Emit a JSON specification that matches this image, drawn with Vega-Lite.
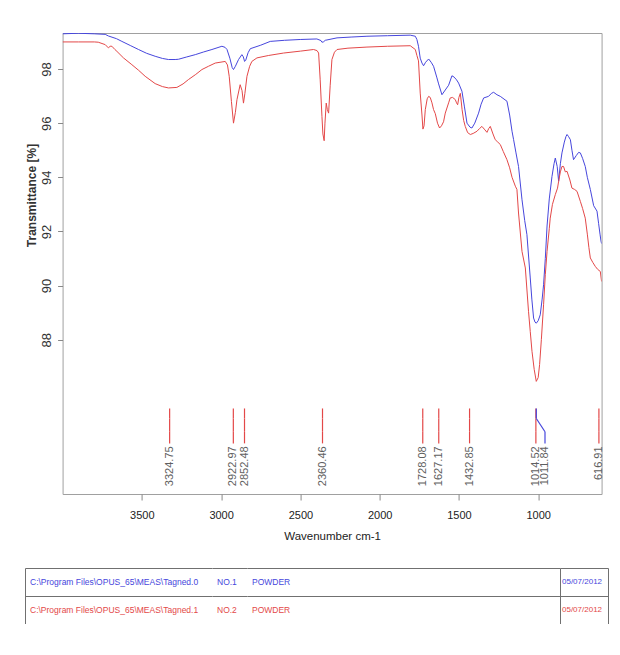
{
  "$schema": "https://vega.github.io/schema/vega-lite/v6.json",
  "padding": {"left": 25, "top": 32, "right": 0, "bottom": 0},
  "background": "white",
  "center": true,
  "spacing": 26,
  "config": {"font": "Liberation Sans", "view": {"stroke": "#a0a0a0"}},
  "datasets": {
    "spectra": [
      {"s": "0", "nu": 4000, "t": 99.30}, {"s": "0", "nu": 3900, "t": 99.32}, {"s": "0", "nu": 3800, "t": 99.30},
      {"s": "0", "nu": 3731, "t": 99.28}, {"s": "0", "nu": 3711, "t": 99.22}, {"s": "0", "nu": 3660, "t": 99.12},
      {"s": "0", "nu": 3626, "t": 99.02}, {"s": "0", "nu": 3570, "t": 98.86}, {"s": "0", "nu": 3521, "t": 98.72},
      {"s": "0", "nu": 3470, "t": 98.58}, {"s": "0", "nu": 3416, "t": 98.47}, {"s": "0", "nu": 3370, "t": 98.39},
      {"s": "0", "nu": 3332, "t": 98.35}, {"s": "0", "nu": 3290, "t": 98.35}, {"s": "0", "nu": 3269, "t": 98.36},
      {"s": "0", "nu": 3220, "t": 98.44}, {"s": "0", "nu": 3163, "t": 98.53}, {"s": "0", "nu": 3110, "t": 98.63},
      {"s": "0", "nu": 3058, "t": 98.72}, {"s": "0", "nu": 2995, "t": 98.84}, {"s": "0", "nu": 2975, "t": 98.80},
      {"s": "0", "nu": 2963, "t": 98.72}, {"s": "0", "nu": 2945, "t": 98.40}, {"s": "0", "nu": 2930, "t": 98.05},
      {"s": "0", "nu": 2922, "t": 97.98}, {"s": "0", "nu": 2910, "t": 98.10}, {"s": "0", "nu": 2890, "t": 98.35},
      {"s": "0", "nu": 2869, "t": 98.53}, {"s": "0", "nu": 2860, "t": 98.45}, {"s": "0", "nu": 2852, "t": 98.28},
      {"s": "0", "nu": 2845, "t": 98.32}, {"s": "0", "nu": 2830, "t": 98.60}, {"s": "0", "nu": 2816, "t": 98.75},
      {"s": "0", "nu": 2750, "t": 98.88}, {"s": "0", "nu": 2690, "t": 99.02}, {"s": "0", "nu": 2600, "t": 99.06},
      {"s": "0", "nu": 2501, "t": 99.09}, {"s": "0", "nu": 2396, "t": 99.11}, {"s": "0", "nu": 2370, "t": 99.05},
      {"s": "0", "nu": 2364, "t": 98.99}, {"s": "0", "nu": 2355, "t": 99.00}, {"s": "0", "nu": 2343, "t": 99.06},
      {"s": "0", "nu": 2269, "t": 99.15}, {"s": "0", "nu": 2180, "t": 99.18}, {"s": "0", "nu": 2080, "t": 99.21},
      {"s": "0", "nu": 1950, "t": 99.23}, {"s": "0", "nu": 1807, "t": 99.25}, {"s": "0", "nu": 1775, "t": 99.21},
      {"s": "0", "nu": 1765, "t": 99.09}, {"s": "0", "nu": 1755, "t": 98.84}, {"s": "0", "nu": 1744, "t": 98.40},
      {"s": "0", "nu": 1733, "t": 98.22}, {"s": "0", "nu": 1723, "t": 98.12}, {"s": "0", "nu": 1710, "t": 98.25},
      {"s": "0", "nu": 1691, "t": 98.37}, {"s": "0", "nu": 1675, "t": 98.25}, {"s": "0", "nu": 1660, "t": 98.10},
      {"s": "0", "nu": 1640, "t": 97.70}, {"s": "0", "nu": 1628, "t": 97.45}, {"s": "0", "nu": 1607, "t": 97.05},
      {"s": "0", "nu": 1595, "t": 97.15}, {"s": "0", "nu": 1565, "t": 97.40}, {"s": "0", "nu": 1544, "t": 97.75},
      {"s": "0", "nu": 1530, "t": 97.70}, {"s": "0", "nu": 1515, "t": 97.60}, {"s": "0", "nu": 1502, "t": 97.48},
      {"s": "0", "nu": 1481, "t": 97.18}, {"s": "0", "nu": 1465, "t": 96.60}, {"s": "0", "nu": 1449, "t": 96.00},
      {"s": "0", "nu": 1430, "t": 95.85}, {"s": "0", "nu": 1418, "t": 95.82}, {"s": "0", "nu": 1400, "t": 96.00},
      {"s": "0", "nu": 1376, "t": 96.37}, {"s": "0", "nu": 1360, "t": 96.70}, {"s": "0", "nu": 1344, "t": 96.93},
      {"s": "0", "nu": 1313, "t": 96.99}, {"s": "0", "nu": 1295, "t": 97.10}, {"s": "0", "nu": 1281, "t": 97.14},
      {"s": "0", "nu": 1260, "t": 97.05}, {"s": "0", "nu": 1239, "t": 96.99}, {"s": "0", "nu": 1197, "t": 96.81},
      {"s": "0", "nu": 1180, "t": 96.30}, {"s": "0", "nu": 1165, "t": 95.70}, {"s": "0", "nu": 1155, "t": 95.39},
      {"s": "0", "nu": 1140, "t": 94.90}, {"s": "0", "nu": 1124, "t": 94.40}, {"s": "0", "nu": 1102, "t": 93.17},
      {"s": "0", "nu": 1085, "t": 92.40}, {"s": "0", "nu": 1071, "t": 91.88}, {"s": "0", "nu": 1050, "t": 90.28},
      {"s": "0", "nu": 1040, "t": 89.50}, {"s": "0", "nu": 1029, "t": 88.80}, {"s": "0", "nu": 1020, "t": 88.65},
      {"s": "0", "nu": 1012, "t": 88.61}, {"s": "0", "nu": 1000, "t": 88.70}, {"s": "0", "nu": 987, "t": 88.92},
      {"s": "0", "nu": 975, "t": 89.50}, {"s": "0", "nu": 966, "t": 90.03}, {"s": "0", "nu": 955, "t": 91.00},
      {"s": "0", "nu": 944, "t": 92.20}, {"s": "0", "nu": 930, "t": 93.20}, {"s": "0", "nu": 913, "t": 94.03},
      {"s": "0", "nu": 900, "t": 94.50}, {"s": "0", "nu": 892, "t": 94.71}, {"s": "0", "nu": 880, "t": 94.40},
      {"s": "0", "nu": 871, "t": 93.85}, {"s": "0", "nu": 860, "t": 94.50}, {"s": "0", "nu": 850, "t": 94.90},
      {"s": "0", "nu": 835, "t": 95.30}, {"s": "0", "nu": 825, "t": 95.50}, {"s": "0", "nu": 818, "t": 95.58},
      {"s": "0", "nu": 808, "t": 95.50}, {"s": "0", "nu": 797, "t": 95.39}, {"s": "0", "nu": 787, "t": 95.00},
      {"s": "0", "nu": 777, "t": 94.65}, {"s": "0", "nu": 760, "t": 94.80}, {"s": "0", "nu": 745, "t": 94.92},
      {"s": "0", "nu": 734, "t": 94.90}, {"s": "0", "nu": 720, "t": 94.70}, {"s": "0", "nu": 703, "t": 94.40},
      {"s": "0", "nu": 690, "t": 94.00}, {"s": "0", "nu": 671, "t": 93.55}, {"s": "0", "nu": 650, "t": 92.95},
      {"s": "0", "nu": 629, "t": 92.75}, {"s": "0", "nu": 619, "t": 92.30}, {"s": "0", "nu": 610, "t": 91.90},
      {"s": "0", "nu": 604, "t": 91.65}, {"s": "0", "nu": 600, "t": 91.55},
      {"s": "1", "nu": 4000, "t": 99.00}, {"s": "1", "nu": 3900, "t": 99.00}, {"s": "1", "nu": 3800, "t": 99.00},
      {"s": "1", "nu": 3775, "t": 98.99}, {"s": "1", "nu": 3731, "t": 98.90}, {"s": "1", "nu": 3711, "t": 98.78},
      {"s": "1", "nu": 3700, "t": 98.84}, {"s": "1", "nu": 3689, "t": 98.84}, {"s": "1", "nu": 3670, "t": 98.72},
      {"s": "1", "nu": 3657, "t": 98.65}, {"s": "1", "nu": 3616, "t": 98.41}, {"s": "1", "nu": 3563, "t": 98.16},
      {"s": "1", "nu": 3520, "t": 97.95}, {"s": "1", "nu": 3479, "t": 97.73}, {"s": "1", "nu": 3416, "t": 97.46},
      {"s": "1", "nu": 3370, "t": 97.35}, {"s": "1", "nu": 3332, "t": 97.30}, {"s": "1", "nu": 3279, "t": 97.32},
      {"s": "1", "nu": 3240, "t": 97.45}, {"s": "1", "nu": 3206, "t": 97.61}, {"s": "1", "nu": 3160, "t": 97.80},
      {"s": "1", "nu": 3121, "t": 97.98}, {"s": "1", "nu": 3080, "t": 98.10}, {"s": "1", "nu": 3037, "t": 98.22},
      {"s": "1", "nu": 2974, "t": 98.28}, {"s": "1", "nu": 2960, "t": 98.15}, {"s": "1", "nu": 2949, "t": 97.73},
      {"s": "1", "nu": 2935, "t": 96.80}, {"s": "1", "nu": 2922, "t": 96.00}, {"s": "1", "nu": 2910, "t": 96.40},
      {"s": "1", "nu": 2900, "t": 96.87}, {"s": "1", "nu": 2880, "t": 97.42}, {"s": "1", "nu": 2868, "t": 97.20},
      {"s": "1", "nu": 2859, "t": 96.74}, {"s": "1", "nu": 2850, "t": 97.10}, {"s": "1", "nu": 2837, "t": 97.73},
      {"s": "1", "nu": 2820, "t": 98.10}, {"s": "1", "nu": 2806, "t": 98.28}, {"s": "1", "nu": 2774, "t": 98.41},
      {"s": "1", "nu": 2700, "t": 98.50}, {"s": "1", "nu": 2606, "t": 98.59}, {"s": "1", "nu": 2500, "t": 98.66},
      {"s": "1", "nu": 2417, "t": 98.72}, {"s": "1", "nu": 2395, "t": 98.68}, {"s": "1", "nu": 2385, "t": 98.59},
      {"s": "1", "nu": 2375, "t": 97.60}, {"s": "1", "nu": 2364, "t": 96.25}, {"s": "1", "nu": 2358, "t": 95.60},
      {"s": "1", "nu": 2350, "t": 95.35}, {"s": "1", "nu": 2345, "t": 96.00}, {"s": "1", "nu": 2337, "t": 96.74},
      {"s": "1", "nu": 2330, "t": 96.50}, {"s": "1", "nu": 2322, "t": 96.37}, {"s": "1", "nu": 2312, "t": 97.40},
      {"s": "1", "nu": 2301, "t": 98.35}, {"s": "1", "nu": 2285, "t": 98.62}, {"s": "1", "nu": 2269, "t": 98.72},
      {"s": "1", "nu": 2200, "t": 98.77}, {"s": "1", "nu": 2080, "t": 98.81}, {"s": "1", "nu": 1950, "t": 98.84},
      {"s": "1", "nu": 1807, "t": 98.86}, {"s": "1", "nu": 1775, "t": 98.72}, {"s": "1", "nu": 1765, "t": 98.50},
      {"s": "1", "nu": 1755, "t": 98.30}, {"s": "1", "nu": 1744, "t": 97.11}, {"s": "1", "nu": 1733, "t": 96.30},
      {"s": "1", "nu": 1727, "t": 95.78}, {"s": "1", "nu": 1720, "t": 95.90}, {"s": "1", "nu": 1712, "t": 96.50},
      {"s": "1", "nu": 1700, "t": 96.90}, {"s": "1", "nu": 1691, "t": 96.99}, {"s": "1", "nu": 1681, "t": 96.95},
      {"s": "1", "nu": 1670, "t": 96.75}, {"s": "1", "nu": 1660, "t": 96.50}, {"s": "1", "nu": 1649, "t": 96.35},
      {"s": "1", "nu": 1635, "t": 96.00}, {"s": "1", "nu": 1622, "t": 95.82}, {"s": "1", "nu": 1610, "t": 95.90},
      {"s": "1", "nu": 1597, "t": 96.05}, {"s": "1", "nu": 1586, "t": 96.37}, {"s": "1", "nu": 1565, "t": 96.75},
      {"s": "1", "nu": 1555, "t": 96.93}, {"s": "1", "nu": 1540, "t": 96.95}, {"s": "1", "nu": 1523, "t": 96.87},
      {"s": "1", "nu": 1515, "t": 96.75}, {"s": "1", "nu": 1508, "t": 96.68}, {"s": "1", "nu": 1500, "t": 96.95},
      {"s": "1", "nu": 1491, "t": 97.10}, {"s": "1", "nu": 1480, "t": 96.50}, {"s": "1", "nu": 1470, "t": 96.10},
      {"s": "1", "nu": 1460, "t": 95.88}, {"s": "1", "nu": 1445, "t": 95.65}, {"s": "1", "nu": 1428, "t": 95.58},
      {"s": "1", "nu": 1410, "t": 95.62}, {"s": "1", "nu": 1386, "t": 95.70}, {"s": "1", "nu": 1370, "t": 95.80},
      {"s": "1", "nu": 1355, "t": 95.88}, {"s": "1", "nu": 1340, "t": 95.78}, {"s": "1", "nu": 1323, "t": 95.66},
      {"s": "1", "nu": 1312, "t": 95.80}, {"s": "1", "nu": 1302, "t": 95.88}, {"s": "1", "nu": 1285, "t": 95.60},
      {"s": "1", "nu": 1271, "t": 95.39}, {"s": "1", "nu": 1255, "t": 95.30}, {"s": "1", "nu": 1239, "t": 95.21},
      {"s": "1", "nu": 1220, "t": 94.95}, {"s": "1", "nu": 1197, "t": 94.65}, {"s": "1", "nu": 1180, "t": 94.35},
      {"s": "1", "nu": 1165, "t": 94.00}, {"s": "1", "nu": 1144, "t": 93.67}, {"s": "1", "nu": 1134, "t": 93.55},
      {"s": "1", "nu": 1124, "t": 92.68}, {"s": "1", "nu": 1102, "t": 91.26}, {"s": "1", "nu": 1081, "t": 90.65},
      {"s": "1", "nu": 1061, "t": 89.05}, {"s": "1", "nu": 1050, "t": 88.30}, {"s": "1", "nu": 1039, "t": 87.57},
      {"s": "1", "nu": 1025, "t": 86.90}, {"s": "1", "nu": 1012, "t": 86.46}, {"s": "1", "nu": 1000, "t": 86.60},
      {"s": "1", "nu": 991, "t": 87.08}, {"s": "1", "nu": 980, "t": 88.00}, {"s": "1", "nu": 966, "t": 89.29},
      {"s": "1", "nu": 955, "t": 90.40}, {"s": "1", "nu": 944, "t": 91.26}, {"s": "1", "nu": 930, "t": 92.10},
      {"s": "1", "nu": 924, "t": 92.49}, {"s": "1", "nu": 910, "t": 93.00}, {"s": "1", "nu": 892, "t": 93.36},
      {"s": "1", "nu": 878, "t": 93.60}, {"s": "1", "nu": 871, "t": 93.85}, {"s": "1", "nu": 860, "t": 94.20},
      {"s": "1", "nu": 850, "t": 94.40}, {"s": "1", "nu": 840, "t": 94.40}, {"s": "1", "nu": 829, "t": 94.20},
      {"s": "1", "nu": 818, "t": 94.22}, {"s": "1", "nu": 800, "t": 93.90}, {"s": "1", "nu": 787, "t": 93.60},
      {"s": "1", "nu": 770, "t": 93.55}, {"s": "1", "nu": 755, "t": 93.48}, {"s": "1", "nu": 734, "t": 93.11},
      {"s": "1", "nu": 720, "t": 92.85}, {"s": "1", "nu": 703, "t": 92.49}, {"s": "1", "nu": 690, "t": 91.90},
      {"s": "1", "nu": 680, "t": 91.40}, {"s": "1", "nu": 671, "t": 91.02}, {"s": "1", "nu": 655, "t": 90.85},
      {"s": "1", "nu": 640, "t": 90.71}, {"s": "1", "nu": 625, "t": 90.60}, {"s": "1", "nu": 608, "t": 90.52},
      {"s": "1", "nu": 600, "t": 90.15}
    ],
    "peaks": [
      {"s": "1", "nu": 3324.75, "lx": 3324.75, "label": "3324.75"},
      {"s": "1", "nu": 2922.97, "lx": 2922.97, "label": "2922.97"},
      {"s": "1", "nu": 2852.48, "lx": 2852.48, "label": "2852.48"},
      {"s": "1", "nu": 2360.46, "lx": 2360.46, "label": "2360.46"},
      {"s": "1", "nu": 1728.08, "lx": 1728.08, "label": "1728.08"},
      {"s": "1", "nu": 1627.17, "lx": 1627.17, "label": "1627.17"},
      {"s": "1", "nu": 1432.85, "lx": 1432.85, "label": "1432.85"},
      {"s": "1", "nu": 1014.52, "lx": 1014.52, "label": "1014.52"},
      {"s": "0", "nu": 1011.84, "lx": 957, "label": "1011.84"},
      {"s": "1", "nu": 616.91, "lx": 616.91, "label": "616.91"}
    ],
    "files": [
      {"row": "0", "file": "C:\\Program Files\\OPUS_65\\MEAS\\Tagned.0", "no": "NO.1", "sample": "POWDER", "date": "05/07/2012"},
      {"row": "1", "file": "C:\\Program Files\\OPUS_65\\MEAS\\Tagned.1", "no": "NO.2", "sample": "POWDER", "date": "05/07/2012"}
    ]
  },
  "vconcat": [
    {
      "width": 539,
      "height": 461,
      "layer": [
        {
          "data": {"name": "spectra"},
          "mark": {"type": "line", "strokeWidth": 1, "clip": true},
          "encoding": {
            "x": {"field": "nu", "type": "quantitative",
              "scale": {"domain": [600, 4000], "reverse": true, "nice": false, "zero": false},
              "axis": {"values": [1000, 1500, 2000, 2500, 3000, 3500], "format": "d", "title": "Wavenumber cm-1", "grid": false, "domain": false,
                "tickSize": 6, "tickColor": "#888888", "labelPadding": 9, "labelFontSize": 11,
                "labelColor": "#222222", "labelFlush": false, "titleFontSize": 11.5,
                "titleFontWeight": "normal", "titleColor": "#222222", "titlePadding": 10}},
            "y": {"field": "t", "type": "quantitative",
              "scale": {"domain": [82.3, 99.33], "nice": false, "zero": false},
              "axis": {"values": [88, 90, 92, 94, 96, 98], "title": "Transmittance [%]", "grid": false, "domain": false,
                "tickSize": 5, "tickColor": "#888888", "labelAngle": 270, "labelAlign": "center", "labelBaseline": "bottom",
                "labelPadding": 4, "labelFontSize": 13, "labelColor": "#333333", "titleFontSize": 12, "titleFontWeight": "bold",
                "titleColor": "#333333", "titlePadding": 2, "titleY": 162}},
            "color": {"field": "s", "type": "nominal", "scale": {"domain": ["0", "1"], "range": ["#4646dc", "#e34848"]}, "legend": null}
          }
        },
        {
          "data": {"name": "peaks"},
          "mark": {"type": "rule", "strokeWidth": 1.2},
          "encoding": {
            "x": {"field": "nu", "type": "quantitative"},
            "y": {"datum": 85.46}, "y2": {"datum": 85.09},
            "color": {"field": "s", "type": "nominal"}
          }
        },
        {
          "data": {"name": "peaks"},
          "mark": {"type": "rule", "strokeWidth": 1.2},
          "encoding": {
            "x": {"field": "nu", "type": "quantitative"}, "x2": {"field": "lx"},
            "y": {"datum": 85.09}, "y2": {"datum": 84.6},
            "color": {"field": "s", "type": "nominal"}
          }
        },
        {
          "data": {"name": "peaks"},
          "mark": {"type": "rule", "strokeWidth": 1.2},
          "encoding": {
            "x": {"field": "lx", "type": "quantitative"},
            "y": {"datum": 84.6}, "y2": {"datum": 84.17},
            "color": {"field": "s", "type": "nominal"}
          }
        },
        {
          "data": {"name": "peaks"},
          "mark": {"type": "text", "angle": 270, "align": "right", "baseline": "middle", "fontSize": 11, "color": "#606060", "dx": -3},
          "encoding": {
            "x": {"field": "lx", "type": "quantitative"},
            "y": {"datum": 84.17},
            "text": {"field": "label"}
          }
        }
      ]
    },
    {
      "data": {"name": "files"},
      "spacing": 0,
      "hconcat": [
        {
          "width": 187, "height": 56, "view": {"stroke": null},
          "mark": {"type": "text", "align": "left", "dx": 5, "fontSize": 8.5},
          "encoding": {
            "x": {"datum": 0, "type": "quantitative", "scale": {"domain": [0, 1]}, "axis": null},
            "y": {"field": "row", "type": "nominal", "scale": {"paddingInner": 0, "paddingOuter": 0},
              "axis": {"orient": "left", "domain": true, "domainColor": "#707070", "ticks": false, "labels": false, "title": null,
                "grid": true, "gridColor": "#707070", "gridOpacity": 1, "tickBand": "extent"}},
            "text": {"field": "file"},
            "color": {"field": "row", "type": "nominal", "scale": {"domain": ["0", "1"], "range": ["#3a3ad0", "#e04040"]}, "legend": null}
          }
        },
        {
          "width": 35, "height": 56, "view": {"stroke": null},
          "mark": {"type": "text", "align": "left", "dx": 5, "fontSize": 8.5},
          "encoding": {
            "x": {"datum": 0, "type": "quantitative", "scale": {"domain": [0, 1]}, "axis": null},
            "y": {"field": "row", "type": "nominal", "scale": {"paddingInner": 0, "paddingOuter": 0},
              "axis": {"orient": "left", "domain": false, "ticks": false, "labels": false, "title": null,
                "grid": true, "gridColor": "#707070", "gridOpacity": 1, "tickBand": "extent"}},
            "text": {"field": "no"},
            "color": {"field": "row", "type": "nominal", "scale": {"domain": ["0", "1"], "range": ["#3a3ad0", "#e04040"]}, "legend": null}
          }
        },
        {
          "width": 313, "height": 56, "view": {"stroke": null},
          "mark": {"type": "text", "align": "left", "dx": 5, "fontSize": 8.5},
          "encoding": {
            "x": {"datum": 0, "type": "quantitative", "scale": {"domain": [0, 1]}, "axis": null},
            "y": {"field": "row", "type": "nominal", "scale": {"paddingInner": 0, "paddingOuter": 0},
              "axis": {"orient": "right", "domain": true, "domainColor": "#707070", "ticks": false, "labels": false, "title": null,
                "grid": true, "gridColor": "#707070", "gridOpacity": 1, "tickBand": "extent"}},
            "text": {"field": "sample"},
            "color": {"field": "row", "type": "nominal", "scale": {"domain": ["0", "1"], "range": ["#3a3ad0", "#e04040"]}, "legend": null}
          }
        },
        {
          "width": 48, "height": 56, "view": {"stroke": null},
          "mark": {"type": "text", "align": "left", "dx": 2, "fontSize": 8},
          "encoding": {
            "x": {"datum": 0, "type": "quantitative", "scale": {"domain": [0, 1]}, "axis": null},
            "y": {"field": "row", "type": "nominal", "scale": {"paddingInner": 0, "paddingOuter": 0},
              "axis": {"orient": "right", "domain": true, "domainColor": "#707070", "ticks": false, "labels": false, "title": null,
                "grid": true, "gridColor": "#707070", "gridOpacity": 1, "tickBand": "extent", "minExtent": 34}},
            "text": {"field": "date"},
            "color": {"field": "row", "type": "nominal", "scale": {"domain": ["0", "1"], "range": ["#3a3ad0", "#e04040"]}, "legend": null}
          }
        }
      ]
    }
  ]
}
